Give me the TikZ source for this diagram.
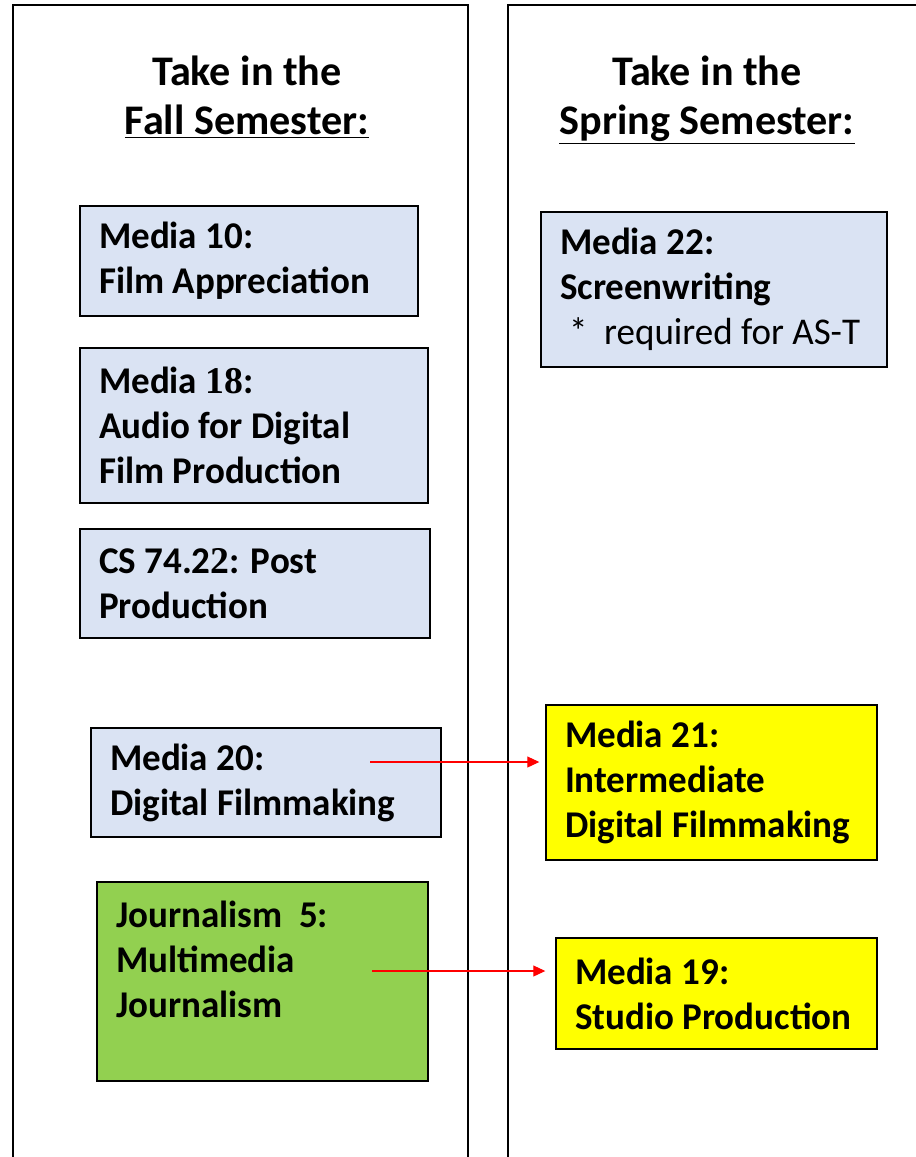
\documentclass[tikz,border=0pt]{standalone}
\usepackage{fontspec}
\setmainfont{Carlito}
\newfontfamily\coursefont{Carlito}[FakeStretch=0.98]
\newfontfamily\serifnum{Liberation Serif}
\usetikzlibrary{arrows.meta}
\definecolor{courseblue}{RGB}{218,227,243}
\definecolor{coursegreen}{RGB}{146,208,80}
\definecolor{courseyellow}{RGB}{255,255,0}
\definecolor{arrowred}{RGB}{255,0,0}

\begin{document}
\begin{tikzpicture}[x=0.02cm, y=-0.02cm,
    course/.style={draw, line width=0.85pt, align=flush left, inner xsep=0.38cm,
                   font=\coursefont\fontsize{21.5}{25.6}\selectfont\bfseries},
    semhead/.style={align=center, anchor=north, font=\fontsize{24}{27.5}\selectfont\bfseries},
    prereq/.style={draw=arrowred, line width=0.6pt, -{Triangle[length=0.24cm, width=0.22cm]}}]
                \useasboundingbox (0,0) rectangle (916,1157);
                \clip (0,0) rectangle (916,1157);

                % Semester columns
                \draw[line width=1.7pt] (13,5) rectangle (468,1180);
                \draw[line width=1.7pt] (508,5) rectangle (940,1180);

                \node[semhead] (fallhead) at (247,50) {Take in the\\ \underline{Fall Semester:}};
                \node[semhead] (springhead) at (707,50) {Take in the\\ \underline{Spring Semester:}};

                % Fall courses
                \node[course, fill=courseblue, text width=6.0cm, minimum height=2.2cm] (media10) at (249,261)
                    {Media 10:\\ Film Appreciation};
                \node[course, fill=courseblue, text width=6.2cm, minimum height=3.1cm] (media18) at (254,425.5)
                    {Media {\serifnum 18}:\\ Audio for Digital\\ Film Production};
                \node[course, fill=courseblue, text width=6.24cm, minimum height=2.18cm] (cs7422) at (255,583.5)
                    {CS 74.2{\serifnum 2}: Post\\ Production};
                \node[course, fill=courseblue, text width=6.24cm, minimum height=2.18cm] (media20) at (266,782.5)
                    {Media 20:\\ Digital Filmmaking};
                \node[course, fill=coursegreen, text width=5.86cm, minimum height=3.98cm] (journ5) at (262.5,981.5)
                    {Journalism~ 5:\\ Multimedia\\ Journalism\\ \mbox{}};

                % Spring courses
                \node[course, fill=courseblue, text width=6.16cm, minimum height=3.1cm] (media22) at (714,289.5)
                    {Media 22:\\ Screenwriting\\ \mbox{\hspace*{0.18cm}\mdseries *\ \ required for AS-T}};
                \node[course, fill=courseyellow, text width=5.86cm, minimum height=3.1cm] (media21) at (711.5,782.5)
                    {Media 21:\\ Intermediate\\ Digital Filmmaking};
                \node[course, fill=courseyellow, text width=5.66cm, minimum height=2.22cm] (media19) at (716.5,993.5)
                    {Media 19:\\ Studio Production};

                % Prerequisite arrows
                \coordinate (m20tail) at (370,762);
                \coordinate (j5tail) at (372,971);
                \draw[prereq, shorten >=0.12cm] (m20tail) -- (m20tail -| media21.west);
                \draw[prereq, shorten >=0.2cm] (j5tail) -- (j5tail -| media19.west);
            \end{tikzpicture}
\end{document}
